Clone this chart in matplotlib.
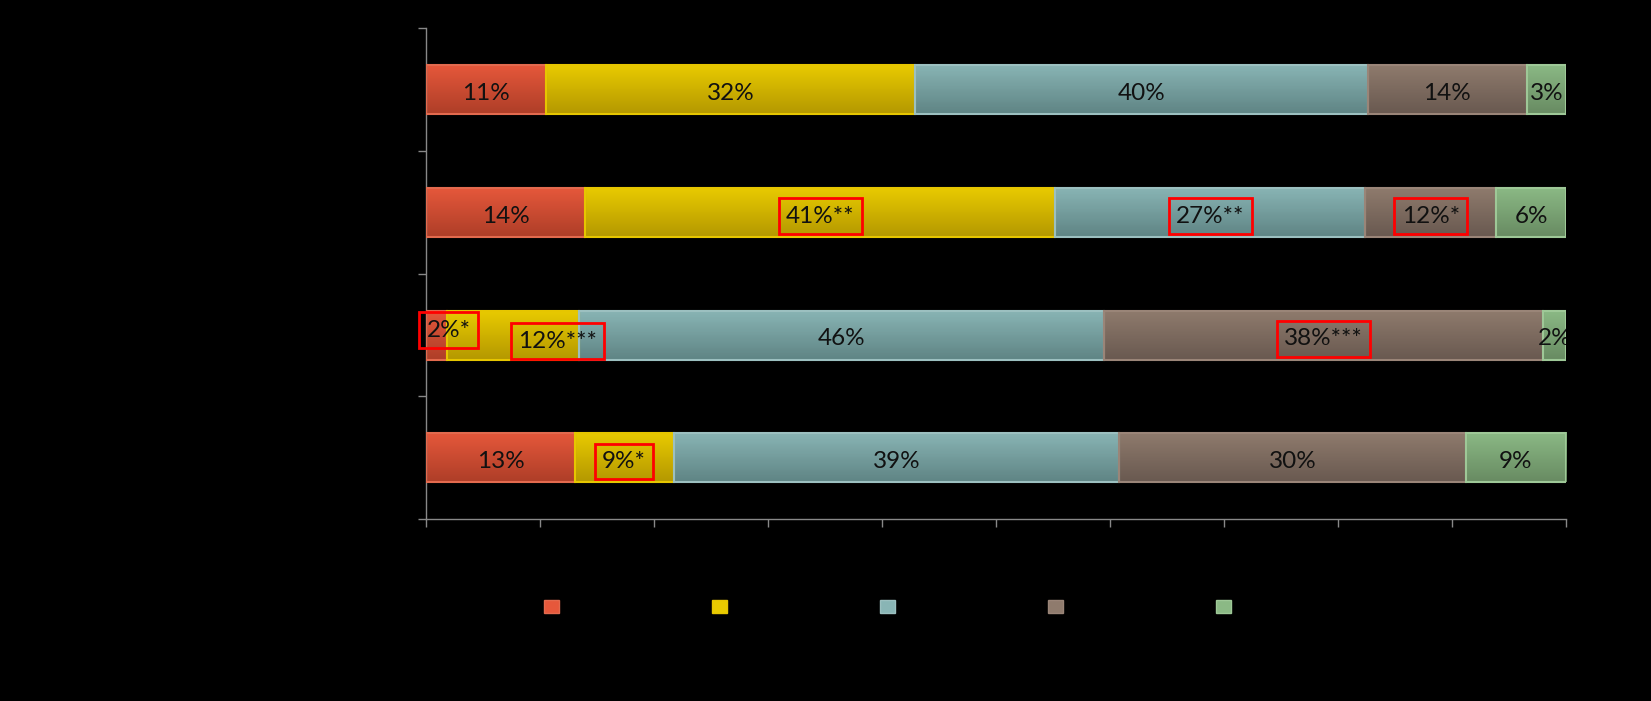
import matplotlib.pyplot as plt
import numpy as np
from matplotlib.colors import LinearSegmentedColormap

# rows from top to bottom; category and series names are drawn black on black in the source
rows = [0, 1, 2, 3]
seg1 = [10.5, 13.9, 1.8, 13.0]
seg2 = [32.4, 41.3, 11.6, 8.7]
seg3 = [39.7, 27.2, 46.1, 39.1]
seg4 = [14.0, 11.5, 38.5, 30.4]
seg5 = [3.4, 6.1, 2.0, 8.8]

labels1 = ["11%", "14%", "2%*", "13%"]
labels2 = ["32%", "41%**", "12%***", "9%*"]
labels3 = ["40%", "27%**", "46%", "39%"]
labels4 = ["14%", "12%*", "38%***", "30%"]
labels5 = ["3%", "6%", "2%", "9%"]

# labels marked with a red box (series index, row index)
boxed = {(1, 1), (2, 1), (3, 1), (0, 2), (1, 2), (3, 2), (1, 3)}
# labels moved away from segment centre: (series, row) -> (x, y)
moved = {(0, 2): (1.95, 1.96), (1, 2): (11.5, 2.05)}

series = [seg1, seg2, seg3, seg4, seg5]
series_labels = [labels1, labels2, labels3, labels4, labels5]
top_colors = ["#E6583B", "#E9CB00", "#89B5B5", "#8F7B6D", "#8BB985"]
bot_colors = ["#AE3E28", "#B49800", "#5F8484", "#695950", "#688B62"]
edge_colors = ["#E36A4E", "#E6C600", "#9CC0C0", "#9A8578", "#9EC897"]

fig = plt.figure(figsize=(16.51, 7.01), dpi=100, facecolor="black")
ax = fig.add_axes([0.2583, 0.2595, 0.6901, 0.7000], facecolor="black")

grad = np.linspace(0, 1, 64).reshape(-1, 1)
left = np.zeros(len(rows))
handles = []
for i, vals in enumerate(series):
    cmap = LinearSegmentedColormap.from_list(f"g{i}", [top_colors[i], bot_colors[i]])
    bars = ax.barh(rows, vals, left=left, height=0.4, facecolor="none",
                   edgecolor=edge_colors[i], linewidth=1.5, zorder=3)
    for bar in bars:
        x0, y0 = bar.get_x(), bar.get_y()
        w, h = bar.get_width(), bar.get_height()
        ax.imshow(grad, extent=[x0, x0 + w, y0 + h, y0], aspect="auto",
                  cmap=cmap, zorder=2, interpolation="bilinear")
    for j, v in enumerate(vals):
        x, y = left[j] + v / 2, rows[j] + 0.03
        if (i, j) in moved:
            x, y = moved[(i, j)]
        kw = {}
        if (i, j) in boxed:
            kw["bbox"] = dict(boxstyle="square,pad=0.3", facecolor="none",
                              edgecolor="#FF0000", linewidth=2)
        ax.text(x, y, series_labels[i][j], ha="center", va="center",
                fontsize=17.5, family=["Lato", "DejaVu Sans"], color="#111111",
                zorder=5, clip_on=(i, j) not in moved, **kw)
    handles.append(plt.Rectangle((0, 0), 1, 1, facecolor=top_colors[i],
                                 edgecolor=edge_colors[i], linewidth=1))
    left = left + np.array(vals)

ax.set_xlim(0, 100)
ax.set_ylim(3.5, -0.5)
ax.set_xticks(np.arange(0, 101, 10))
ax.set_yticks([-0.5, 0.5, 1.5, 2.5, 3.5])
ax.tick_params(axis="both", direction="out", length=6, width=1, color="#888888",
               labelbottom=False, labelleft=False)
for side in ["top", "right"]:
    ax.spines[side].set_visible(False)
for side in ["left", "bottom"]:
    ax.spines[side].set_color("#888888")
    ax.spines[side].set_linewidth(1)

fig.legend(handles, [""] * 5, loc="center", bbox_to_anchor=(0.5414, 0.134),
           ncol=5, frameon=False, fontsize=11, handlelength=1.0, handleheight=1.0,
           handletextpad=0.8, columnspacing=9.2)

fig.savefig("out.png", dpi=100, facecolor="black")
